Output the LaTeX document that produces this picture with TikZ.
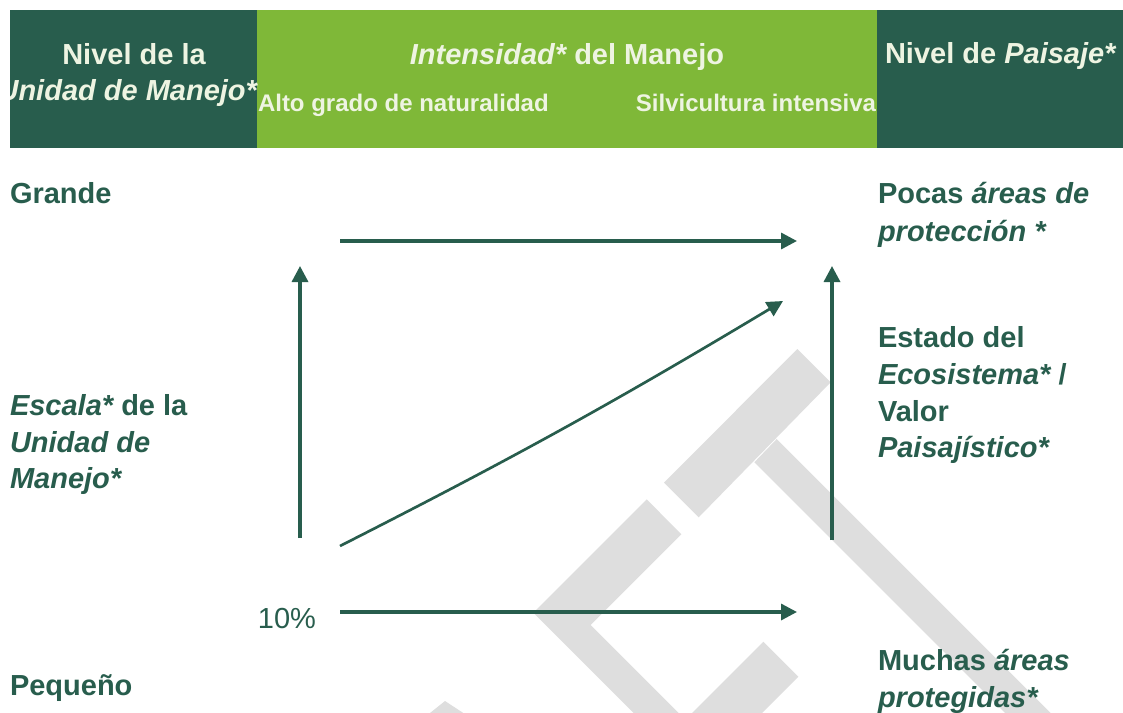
\documentclass[tikz,border=0pt]{standalone}
\usepackage{fontspec}
\setmainfont{Liberation Sans}
\usetikzlibrary{arrows.meta}
\definecolor{verdeosc}{HTML}{285D4D}
\definecolor{verdecla}{HTML}{7FB838}
\definecolor{crema}{HTML}{EEF4E2}
\definecolor{gris}{HTML}{DEDEDE}
\begin{document}
\begin{tikzpicture}[x=0.75pt,y=-0.75pt]
	\tikzset{
		every node/.style={inner sep=0pt,outer sep=0pt},
		% celdas del encabezado
		celdaosc/.style={fill=verdeosc,draw=none},
		celdacla/.style={fill=verdecla,draw=none},
		% textos
		cab/.style={text=crema,font=\fontsize{21.75}{26}\selectfont\bfseries},
		cabchica/.style={text=crema,font=\fontsize{18}{22}\selectfont\bfseries},
		etiq/.style={text=verdeosc,font=\fontsize{21.75}{26}\selectfont\bfseries,anchor=base west},
		% flechas
		flecha/.style={draw=verdeosc,line width=2.5pt,-{Triangle[length=12pt,width=12pt]}},
		marca/.style={fill=gris,draw=none},
	}
	\useasboundingbox (0,0) rectangle (1123,713);
	% marca de agua
	\begin{scope}
		\clip (0,0) rectangle (1123,713);
		\fill[marca] (797.3,349)--(830.7,382.3)--(698.7,517.3)--(664,482.7)--cycle;
		\fill[marca] (776.7,439)--(1076.7,739)--(1054.3,762.3)--(754.3,462.3)--cycle;
		\fill[marca] (646.7,499.3)--(681.3,534.3)--(590.7,625)--(678.7,713)--(633.6,713)--(533.3,612.7)--cycle;
		\fill[marca] (763.3,641.7)--(798.3,676.7)--(762,713)--(692,713)--cycle;
		\fill[marca] (430,713)--(445,701)--(463.3,713)--cycle;
	\end{scope}
	%
	% encabezado
	\fill[celdaosc] (10,10) rectangle (257,148);
	\fill[celdacla] (257,10) rectangle (877,148);
	\fill[celdaosc] (877,10) rectangle (1123,148);
	\begin{scope}
		\clip (10,10) rectangle (257,148);
		\node[cab,anchor=base] (nivel1) at (134,65) {Nivel de la};
		\node[cab,anchor=base east] (nivel2) at (257,101) {\itshape Unidad de Manejo*};
	\end{scope}
	\node[cab,anchor=base] (intens) at (567,65) {\itshape Intensidad*\upshape{} del Manejo};
	\node[cabchica,anchor=base west] (alto) at (258,112) {Alto grado de naturalidad};
	\node[cabchica,anchor=base east] (silvi) at (876,112) {Silvicultura intensiva};
	\node[cab,anchor=base west] (paisaje) at (885,64) {Nivel de \itshape Paisaje*};
	%
	% etiquetas izquierda
	\node[etiq] (grande) at (10,203) {Grande};
	\node[etiq] (esc1) at (10,415) {\itshape Escala*\upshape{} de la};
	\node[etiq] (esc2) at (10,452) {\itshape Unidad de};
	\node[etiq] (esc3) at (10,488) {\itshape Manejo*};
	\node[etiq] (peq) at (10,695) {Pequeño};
	\node[text=verdeosc,font=\fontsize{21.75}{26}\selectfont,anchor=base east] (diez) at (316,628) {10\%};
	% etiquetas derecha
	\node[etiq] (pocas1) at (878,203) {Pocas \itshape áreas de};
	\node[etiq] (pocas2) at (878,241) {\itshape protección *};
	\node[etiq] (est1) at (878,347) {Estado del};
	\node[etiq] (est2) at (878,384) {\itshape Ecosistema*\upshape{} /};
	\node[etiq] (est3) at (878,421) {Valor};
	\node[etiq] (est4) at (878,457) {\itshape Paisajístico*};
	\node[etiq] (muchas1) at (878,670) {Muchas \itshape áreas};
	\node[etiq] (muchas2) at (878,707) {\itshape protegidas*};
	%
	% puntos de las flechas
	\coordinate (sup1) at (340,241);
	\coordinate (sup2) at (797,241);
	\coordinate (izq1) at (300,538);
	\coordinate (izq2) at (300,266);
	\coordinate (der1) at (832,540);
	\coordinate (der2) at (832,266);
	\coordinate (diag1) at (340,546);
	\coordinate (diag2) at (783,301);
	\coordinate (inf1) at (340,612);
	\coordinate (inf2) at (797,612);
	%
	\draw[flecha] (sup1)--(sup2);
	\draw[flecha] (izq1)--(izq2);
	\draw[flecha] (der1)--(der2);
	\draw[flecha,line width=2pt] (diag1) to[bend right=2] (diag2);
	\draw[flecha] (inf1)--(inf2);
\end{tikzpicture}
\end{document}
